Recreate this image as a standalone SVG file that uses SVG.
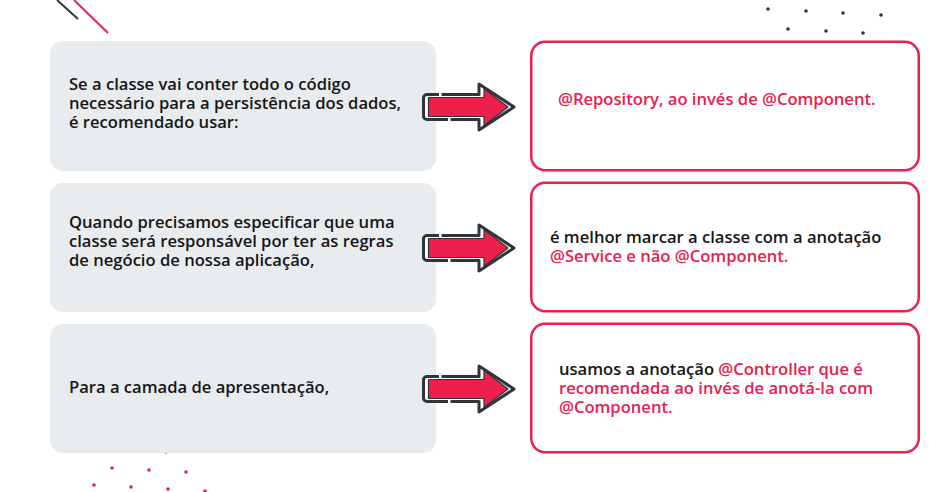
<svg xmlns="http://www.w3.org/2000/svg" width="946" height="492" viewBox="0 0 946 492">
<style>
.bg{fill:#ffffff}
.gray{fill:#e8ecef}
.card{fill:#ffffff;stroke:#ec1f4d;stroke-width:2.5}
.t{font-family:"Open Sans","DejaVu Sans",sans-serif;font-weight:600;font-size:16.6px;fill:#161616}
.r{fill:#e8204f}
.ddot{fill:#2f3539}
.rdot{fill:#ec1f4d}
.ol{fill:#ffffff;stroke:#2f3539;stroke-width:3;stroke-linejoin:round}
.in{fill:#ee1f4b;stroke:#2f3539;stroke-width:1.2;stroke-linejoin:round}
</style>
<defs>
<g id="arrow">
<path class="ol" d="M427,-12.5 H479 V-23 L514,0 L479,23 V12.5 H427 A3.5 3.5 0 0 1 423.5,9 V-9 A3.5 3.5 0 0 1 427,-12.5 Z"/>
<path class="in" d="M428.5,-9.5 H484 V-18.5 L508,0 L484,18.5 V9.5 H428.5 Z"/>
<rect x="439" y="-15" width="2.5" height="5" fill="#ffffff"/>
<rect x="448" y="10" width="2.5" height="5" fill="#ffffff"/>
</g>
</defs>
<rect class="bg" x="0" y="0" width="946" height="492"/>
<g id="decor">
<line x1="57" y1="0" x2="78" y2="19" stroke="#2f3539" stroke-width="2"/>
<line x1="74" y1="0" x2="108" y2="33" stroke="#ec1f4d" stroke-width="2"/>
<circle class="ddot" cx="768" cy="9" r="1.8"/>
<circle class="ddot" cx="806" cy="11" r="1.8"/>
<circle class="ddot" cx="843" cy="13" r="1.8"/>
<circle class="ddot" cx="881" cy="15" r="1.8"/>
<circle class="ddot" cx="788" cy="29" r="1.8"/>
<circle class="ddot" cx="826" cy="31" r="1.8"/>
<circle class="ddot" cx="863" cy="33" r="1.8"/>
<circle class="rdot" cx="166" cy="452" r="1.8"/>
<circle class="rdot" cx="112" cy="468" r="1.8"/>
<circle class="rdot" cx="149" cy="470" r="1.8"/>
<circle class="rdot" cx="186" cy="472" r="1.8"/>
<circle class="rdot" cx="94" cy="485" r="1.8"/>
<circle class="rdot" cx="131" cy="487" r="1.8"/>
<circle class="rdot" cx="168" cy="489" r="1.8"/>
<circle class="rdot" cx="205" cy="491" r="1.8"/>
</g>
<g id="q1">
<rect class="gray" x="50" y="41" width="386" height="130" rx="13"/>
<text class="t" x="69" y="90">Se a classe vai conter todo o código</text>
<text class="t" x="69" y="109">necessário para a persistência dos dados,</text>
<text class="t" x="69" y="128">é recomendado usar:</text>
</g>
<g id="q2">
<rect class="gray" x="50" y="183" width="386" height="129" rx="13"/>
<text class="t" x="69" y="228">Quando precisamos especificar que uma</text>
<text class="t" x="69" y="247">classe será responsável por ter as regras</text>
<text class="t" x="69" y="266">de negócio de nossa aplicação,</text>
</g>
<g id="q3">
<rect class="gray" x="50" y="324" width="386" height="129" rx="13"/>
<text class="t" x="69" y="393">Para a camada de apresentação,</text>
</g>
<g id="a1">
<rect class="card" x="531.25" y="41.75" width="387.5" height="128.5" rx="14"/>
<text class="t r" x="558" y="105">@Repository, ao invés de @Component.</text>
</g>
<g id="a2">
<rect class="card" x="531.25" y="182.75" width="387.5" height="128.5" rx="14"/>
<text class="t" x="550" y="243">é melhor marcar a classe com a anotação</text>
<text class="t r" x="550" y="262">@Service e não @Component.</text>
</g>
<g id="a3">
<rect class="card" x="531.25" y="323.75" width="387.5" height="128.5" rx="14"/>
<text class="t" x="559" y="375">usamos a anotação <tspan class="r">@Controller que é</tspan></text>
<text class="t r" x="559" y="394">recomendada ao invés de anotá-la com</text>
<text class="t r" x="559" y="413">@Component.</text>
</g>
<g id="connectors">
<use href="#arrow" transform="translate(0,107)"/>
<use href="#arrow" transform="translate(0,248)"/>
<use href="#arrow" transform="translate(0,389)"/>
</g>
</svg>
